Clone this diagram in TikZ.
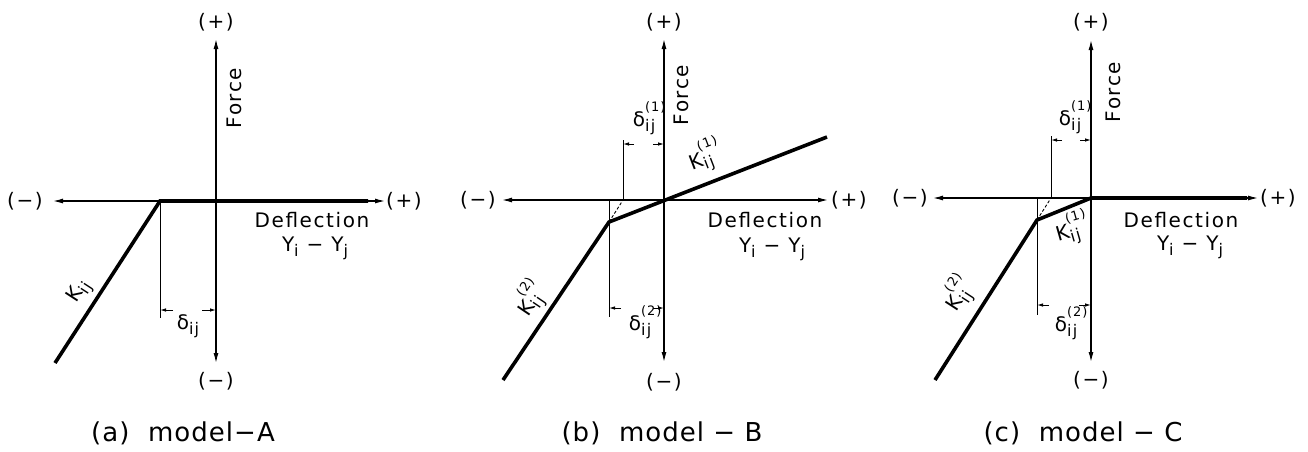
\documentclass[tikz,border=0pt]{standalone}
\usepackage{fontspec}
\setmainfont{DejaVu Sans}
\newfontfamily\lblfont{DejaVu Sans}[LetterSpace=8]
\newfontfamily\capfont{DejaVu Sans}[LetterSpace=4]
\usepackage{tikz}
\usetikzlibrary{arrows.meta}

% lowered index and stacked upper index for the labels
\newcommand{\subtx}[1]{\raisebox{-0.45ex}{\fontsize{16}{16}\selectfont #1}}
\newcommand{\supij}[1]{\rlap{\raisebox{1.4ex}{\fontsize{13}{13}\selectfont(#1)}}\subtx{ij}}

\begin{document}
\begin{tikzpicture}[
        x=1pt, y=-1pt,
        lbl/.style={font=\lblfont\fontsize{20}{22}\selectfont, inner sep=0pt},
        subcap/.style={font=\capfont\fontsize{26}{28}\selectfont, inner sep=0pt},
        axis/.style={line width=1.2pt, {Latex[length=10pt,width=5pt]}-{Latex[length=10pt,width=5pt]}},
        spring/.style={line width=3.6pt},
        guide/.style={line width=0.9pt},
        trend/.style={line width=0.9pt, dash pattern=on 3pt off 2pt},
        dimline/.style={line width=0.9pt, -{Latex[length=6pt,width=3.5pt]}}
    ]
      \useasboundingbox (0,0) rectangle (1308,451);

      % --- (a) model-A ---
      \coordinate (A-l) at (53,201);
      \coordinate (A-r) at (385,201);
      \coordinate (A-t) at (216,39);
      \coordinate (A-b) at (216,363);
      \coordinate (A-k) at (160,201);
      \coordinate (A-ke) at (55,363);
      \coordinate (A-te) at (368,201);
      \coordinate (A-g) at (160,318);
      \coordinate (A-d1) at (160,310);
      \coordinate (A-d2) at (216,310);

      \draw[axis] (A-l) -- (A-r);
      \draw[axis] (A-t) -- (A-b);
      \draw[spring] (A-ke) -- (A-k) -- (A-te);
      \draw[guide] (A-k) -- (A-g);
      \draw[dimline] ([xshift=13pt]A-d1) -- (A-d1);
      \draw[dimline] ([xshift=-14pt]A-d2) -- (A-d2);

      \node[lbl] (A-mx) at (25,201) {(−)};
      \node[lbl] (A-px) at (404,201) {(+)};
      \node[lbl] (A-py) at (216,22) {(+)};
      \node[lbl] (A-my) at (216,381) {(−)};
      \node[lbl, rotate=90] (A-f) at (234,98) {Force};
      \node[lbl] (A-def) at (312,220) {Deflection};
      \node[lbl] (A-y) at (315,248) {Y\subtx{i} − Y\subtx{j}};
      \node[lbl, rotate=57] (A-kl) at (80,292) {K\subtx{ij}};
      \node[lbl] (A-dl) at (188,326) {δ\subtx{ij}};
      \node[subcap] (A-cap) at (183,433) {(a)\ \ model−A};

      % --- (b) model-B ---
      \coordinate (B-l) at (502,200);
      \coordinate (B-r) at (828,200);
      \coordinate (B-t) at (664,39);
      \coordinate (B-b) at (664,362);
      \coordinate (B-k1) at (827,137);
      \coordinate (B-k) at (609,222);
      \coordinate (B-k2) at (503,380);
      \coordinate (B-x) at (623,200);
      \coordinate (B-xt) at (623,140);
      \coordinate (B-g) at (609,200);
      \coordinate (B-gb) at (609,317);
      \coordinate (B-u1) at (623,144);
      \coordinate (B-u2) at (664,144);
      \coordinate (B-d1) at (609,308);
      \coordinate (B-d2) at (664,308);

      \draw[axis] (B-l) -- (B-r);
      \draw[axis] (B-t) -- (B-b);
      \draw[spring] (B-k2) -- (B-k) -- (B-k1);
      \draw[trend] (B-k) -- (B-x);
      \draw[guide] (B-x) -- (B-xt);
      \draw[guide] (B-g) -- (B-gb);
      \draw[dimline] ([xshift=11pt]B-u1) -- (B-u1);
      \draw[dimline] ([xshift=-11pt]B-u2) -- (B-u2);
      \draw[dimline] ([xshift=12pt]B-d1) -- (B-d1);
      \draw[dimline] ([xshift=-11pt]B-d2) -- (B-d2);

      \node[lbl] (B-mx) at (478,200) {(−)};
      \node[lbl] (B-px) at (849,200) {(+)};
      \node[lbl] (B-py) at (664,22) {(+)};
      \node[lbl] (B-my) at (664,382) {(−)};
      \node[lbl, rotate=90] (B-f) at (681,95) {Force};
      \node[lbl] (B-def) at (765,220) {Deflection};
      \node[lbl] (B-y) at (772,249) {Y\subtx{i} − Y\subtx{j}};
      \node[lbl, rotate=21] (B-k1l) at (700,158) {K\supij{1}};
      \node[lbl, rotate=56] (B-k2l) at (528,303) {K\supij{2}};
      \node[lbl] (B-u) at (644,118) {δ\supij{1}};
      \node[lbl] (B-d) at (640,322) {δ\supij{2}};
      \node[subcap] (B-cap) at (662,433) {(b)\ \ model − B};

      % --- (c) model-C ---
      \coordinate (C-l) at (933,198);
      \coordinate (C-r) at (1258,198);
      \coordinate (C-t) at (1091,40);
      \coordinate (C-b) at (1091,362);
      \coordinate (C-o) at (1091,198);
      \coordinate (C-te) at (1247,198);
      \coordinate (C-k) at (1037,220);
      \coordinate (C-k2) at (935,380);
      \coordinate (C-x) at (1051,198);
      \coordinate (C-xt) at (1051,136);
      \coordinate (C-g) at (1037,198);
      \coordinate (C-gb) at (1037,315);
      \coordinate (C-u1) at (1051,140);
      \coordinate (C-u2) at (1091,140);
      \coordinate (C-d1) at (1037,305);
      \coordinate (C-d2) at (1091,305);

      \draw[axis] (C-l) -- (C-r);
      \draw[axis] (C-t) -- (C-b);
      \draw[spring] (C-k2) -- (C-k) -- (C-o) -- (C-te);
      \draw[trend] (C-k) -- (C-x);
      \draw[guide] (C-x) -- (C-xt);
      \draw[guide] (C-g) -- (C-gb);
      \draw[dimline] ([xshift=11pt]C-u1) -- (C-u1);
      \draw[dimline] ([xshift=-11pt]C-u2) -- (C-u2);
      \draw[dimline] ([xshift=12pt]C-d1) -- (C-d1);
      \draw[dimline] ([xshift=-12pt]C-d2) -- (C-d2);

      \node[lbl] (C-mx) at (910,198) {(−)};
      \node[lbl] (C-px) at (1278,198) {(+)};
      \node[lbl] (C-py) at (1091,22) {(+)};
      \node[lbl] (C-my) at (1091,380) {(−)};
      \node[lbl, rotate=90] (C-f) at (1113,92) {Force};
      \node[lbl] (C-def) at (1181,220) {Deflection};
      \node[lbl] (C-y) at (1190,247) {Y\subtx{i} − Y\subtx{j}};
      \node[lbl, rotate=16] (C-k1l) at (1067,230) {K\supij{1}};
      \node[lbl, rotate=57] (C-k2l) at (956,298) {K\supij{2}};
      \node[lbl] (C-u) at (1070,117) {δ\supij{1}};
      \node[lbl] (C-d) at (1066,323) {δ\supij{2}};
      \node[subcap] (C-cap) at (1083,433) {(c)\ \ model − C};
    \end{tikzpicture}
\end{document}
